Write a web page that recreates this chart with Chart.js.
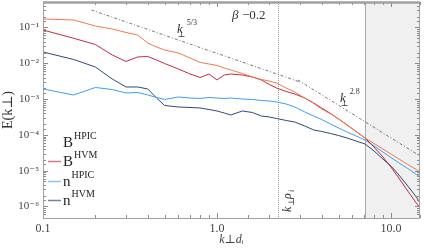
<!DOCTYPE html>
<html>
<head>
<meta charset="utf-8">
<script src="https://cdn.jsdelivr.net/npm/chart.js@4.4.1/dist/chart.umd.min.js"></script>
<style>
  html, body { margin: 0; padding: 0; background: #fff; }
  #wrap { width: 424px; height: 248px; }
</style>
</head>
<body>
<div id="wrap"><canvas id="spectrumChart" width="424" height="248"></canvas></div>
<script>
// k_perp d_i grid shared by all spectra
const kPerp = [0.1, 0.15, 0.2, 0.25, 0.3, 0.35, 0.4, 0.45, 0.5, 0.6, 0.7, 0.8, 0.9, 1.0,
  1.1, 1.2, 1.4, 1.6, 1.8, 2.0, 2.2, 2.5, 2.8, 3.2, 3.6, 4.0, 4.5, 5.0, 5.6, 6.3, 7.1,
  8.0, 9.0, 10, 11, 12.5, 14, 14.7];

// spectra
const bHpic = [0.173, 0.162, 0.110, 0.0908, 0.0725, 0.0617, 0.0369, 0.0285, 0.0235, 0.0194,
  0.01406, 0.01053, 9.56e-3, 8.68e-3, 7.39e-3, 6.50e-3, 5.19e-3, 4.14e-3, 3.53e-3, 3.20e-3,
  2.82e-3, 2.04e-3, 1.58e-3, 1.07e-3, 7.54e-4, 5.29e-4, 3.84e-4, 2.78e-4, 1.89e-4, 1.245e-4,
  8.19e-5, 5.75e-5, 4.04e-5, 2.93e-5, 2.19e-5, 1.49e-5, 1.08e-5, 9.20e-6];
const bHvm = [0.0851, 0.0499, 0.0335, 0.0171, 0.01123, 0.0150, 0.0155, 0.01236, 9.87e-3,
  6.93e-3, 5.03e-3, 4.01e-3, 5.03e-3, 3.42e-3, 4.71e-3, 5.03e-3, 4.71e-3, 4.14e-3, 3.42e-3,
  2.56e-3, 2.04e-3, 1.63e-3, 1.39e-3, 1.07e-3, 7.78e-4, 5.64e-4, 3.96e-4, 2.78e-4, 1.89e-4,
  1.245e-4, 8.19e-5, 4.59e-5, 2.41e-5, 1.27e-5, 6.67e-6, 2.71e-6, 1.25e-6, 9.08e-7];
const nHpic = [1.92e-3, 1.30e-3, 2.11e-3, 1.85e-3, 1.48e-3, 1.53e-3, 1.30e-3, 1.11e-3, 9.75e-4,
  1.145e-3, 1.07e-3, 1.04e-3, 1.11e-3, 1.07e-3, 1.04e-3, 1.07e-3, 1.006e-3, 9.75e-4, 9.14e-4,
  8.85e-4, 8.30e-4, 7.30e-4, 6.02e-4, 4.36e-4, 3.37e-4, 2.69e-4, 2.02e-4, 1.56e-4, 1.205e-4,
  9.32e-5, 7.20e-5, 4.90e-5, 3.33e-5, 2.34e-5, 1.70e-5, 1.15e-5, 7.83e-6, 6.67e-6];
const nHvm = [0.0207, 0.01277, 7.88e-3, 3.64e-3, 2.18e-3, 2.18e-3, 1.92e-3, 1.07e-3, 6.63e-4,
  6.02e-4, 5.83e-4, 5.64e-4, 5.12e-4, 4.65e-4, 4.09e-4, 3.60e-4, 4.65e-4, 4.22e-4, 3.37e-4,
  3.16e-4, 2.87e-4, 2.53e-4, 2.29e-4, 1.77e-4, 1.37e-4, 1.245e-4, 1.09e-4, 9.62e-5, 8.19e-5,
  6.75e-5, 5.57e-5, 3.55e-5, 2.12e-5, 1.35e-5, 8.09e-6, 3.74e-6, 1.84e-6, 1.25e-6];

// reference power laws (end points)
const slopeAK = [0.19, 3.0];
const slopeAE = [0.308, 3.0e-3];
const slopeBK = [2.92, 14.7];
const slopeBE = [3.42e-3, 2.57e-5];

const rhoK = 2.24;      // k_perp rho_i marker
const shadeFrom = 7.1;  // shaded range start

const seriesNames = ["HPIC", "HVM", "HPIC", "HVM"];
const seriesBase = ["B", "B", "n", "n"];
const seriesColors = ["#f07a48", "#c9283f", "#3d9cf5", "#2c4a78"];
const legendColors = [null, "#d27a8a", "#8cc4f0", "#6d87a3"];

const xTickLabels = { "0.1": "0.1", "1": "1.0", "10": "10.0" };
const yTickLabels = ["10⁻¹", "10⁻²", "10⁻³", "10⁻⁴", "10⁻⁵", "10⁻⁶"];

const SERIF = "'Liberation Serif', 'DejaVu Serif', serif";

function isDecade(v) {
  const l = Math.log10(v);
  return Math.abs(l - Math.round(l)) < 1e-6;
}

function pts(xs, ys) {
  return xs.map((x, i) => ({ x: x, y: ys[i] }));
}

// text with a superscript and/or subscript
function drawSymbol(ctx, x, y, base, sub, sup, size, italic) {
  ctx.font = (italic ? "italic " : "") + size + "px " + SERIF;
  ctx.fillText(base, x, y);
  const w = ctx.measureText(base).width;
  const small = Math.round(size * 0.62);
  ctx.font = small + "px " + SERIF;
  if (sub) ctx.fillText(sub, x + w * 0.15, y + size * 0.3);
  if (sup) ctx.fillText(sup, x + w + 4, y - size * 0.6);
}

const decorations = {
  id: "decorations",
  beforeDatasetsDraw(chart) {
    const { ctx, chartArea: a, scales: { x } } = chart;
    ctx.save();
    // shaded dissipation range
    const xs = Math.round(x.getPixelForValue(shadeFrom)) + 0.5;
    ctx.fillStyle = "#f0f0f0";
    ctx.fillRect(xs, a.top, a.right - xs, a.bottom - a.top);
    ctx.strokeStyle = "#a8a8a8";
    ctx.lineWidth = 1;
    ctx.beginPath();
    ctx.moveTo(xs, a.top);
    ctx.lineTo(xs, a.bottom);
    ctx.stroke();
    // k rho_i dotted marker
    const xr = Math.round(x.getPixelForValue(rhoK)) + 0.5;
    ctx.strokeStyle = "#9a9a9a";
    ctx.setLineDash([1, 1]);
    ctx.beginPath();
    ctx.moveTo(xr, a.top);
    ctx.lineTo(xr, a.bottom);
    ctx.stroke();
    ctx.restore();
  },
  afterDatasetsDraw(chart) {
    const { ctx, chartArea: a, scales: { x, y } } = chart;
    ctx.save();
    // inward tick marks on all four sides
    ctx.strokeStyle = "#8a8a8a";
    ctx.lineWidth = 1;
    ctx.beginPath();
    x.ticks.forEach(t => {
      if (t.value < x.min || t.value > x.max) return;
      const px = Math.round(x.getPixelForValue(t.value)) + 0.5;
      const len = isDecade(t.value) ? 5 : 3;
      ctx.moveTo(px, a.bottom); ctx.lineTo(px, a.bottom - len);
      ctx.moveTo(px, a.top); ctx.lineTo(px, a.top + len);
    });
    y.ticks.forEach(t => {
      if (t.value < y.min || t.value > y.max) return;
      const py = Math.round(y.getPixelForValue(t.value)) + 0.5;
      const len = isDecade(t.value) ? 5 : 3;
      ctx.moveTo(a.left, py); ctx.lineTo(a.left + len, py);
      ctx.moveTo(a.right, py); ctx.lineTo(a.right - len, py);
    });
    ctx.stroke();

    // frame
    ctx.strokeStyle = "#a0a0a0";
    ctx.beginPath();
    ctx.moveTo(a.left, a.bottom + 0.5); ctx.lineTo(a.right, a.bottom + 0.5);
    ctx.moveTo(a.left + 0.5, a.top); ctx.lineTo(a.left + 0.5, a.bottom);
    ctx.moveTo(a.right - 0.5, a.top); ctx.lineTo(a.right - 0.5, a.bottom);
    ctx.stroke();
    ctx.lineWidth = 2.5;
    ctx.beginPath();
    ctx.moveTo(a.left, a.top + 0.5); ctx.lineTo(a.right, a.top + 0.5);
    ctx.stroke();

    // annotations
    ctx.fillStyle = "#333";
    ctx.textBaseline = "alphabetic";
    ctx.textAlign = "left";
    ctx.font = "italic 13px " + SERIF;
    const bx = x.getPixelForValue(1.22), by = y.getPixelForValue(0.173);
    ctx.fillText("β", bx, by);
    ctx.font = "13px " + SERIF;
    ctx.fillText("−0.2", bx + 10, by);

    drawSymbol(ctx, x.getPixelForValue(0.589), y.getPixelForValue(0.0702), "k", "⊥", "5/3", 13, true);
    drawSymbol(ctx, x.getPixelForValue(5.09), y.getPixelForValue(8.30e-4), "k", "⊥", "2.8", 13, true);

    // rotated k_perp rho_i
    ctx.save();
    ctx.translate(x.getPixelForValue(2.52) + 4, y.getPixelForValue(7.02e-7));
    ctx.rotate(-Math.PI / 2);
    ctx.font = "italic 12px " + SERIF;
    ctx.fillText("k", 0, 0);
    ctx.font = "8px " + SERIF;
    ctx.fillText("⊥", 6, 3);
    ctx.font = "italic 12px " + SERIF;
    ctx.fillText("ρ", 13, 0);
    ctx.font = "italic 8px " + SERIF;
    ctx.fillText("i", 20, 3);
    ctx.restore();

    // legend
    seriesNames.forEach((name, i) => {
      const base = Math.round(a.top + 145 + i * 19.3);
      if (legendColors[i]) {
        ctx.strokeStyle = legendColors[i];
        ctx.lineWidth = 1.5;
        ctx.beginPath();
        ctx.moveTo(a.left + 5, base - 4.5);
        ctx.lineTo(a.left + 18, base - 4.5);
        ctx.stroke();
      }
      ctx.fillStyle = "#222";
      ctx.font = "15px " + SERIF;
      ctx.fillText(seriesBase[i], a.left + 20, base);
      const w = ctx.measureText(seriesBase[i]).width;
      ctx.font = "10px " + SERIF;
      ctx.fillText(name, a.left + 20 + w + 1, base - 8);
    });
    ctx.restore();
  }
};

function lineSet(label, data, color, width, dash) {
  return {
    label: label,
    data: data,
    borderColor: color,
    backgroundColor: color,
    borderWidth: width,
    borderDash: dash || [],
    pointRadius: 0,
    tension: 0,
    fill: false
  };
}

const chart = new Chart(document.getElementById("spectrumChart"), {
  type: "line",
  data: {
    datasets: [
      lineSet("k⊥^-5/3", pts(slopeAK, slopeAE), "#555", 0.8, [3, 2, 1, 2]),
      lineSet("k⊥^-2.8", pts(slopeBK, slopeBE), "#555", 0.8, [3, 2, 1, 2]),
      lineSet("B HPIC", pts(kPerp, bHpic), seriesColors[0], 1),
      lineSet("B HVM", pts(kPerp, bHvm), seriesColors[1], 1),
      lineSet("n HPIC", pts(kPerp, nHpic), seriesColors[2], 1),
      lineSet("n HVM", pts(kPerp, nHvm), seriesColors[3], 1)
    ]
  },
  options: {
    responsive: false,
    animation: false,
    layout: { padding: { top: 2, right: 4, left: 0, bottom: 0 } },
    plugins: { legend: { display: false }, tooltip: { enabled: false } },
    scales: {
      x: {
        type: "logarithmic",
        min: 0.1,
        max: 14.7,
        grid: { display: false, drawTicks: false },
        border: { display: false },
        ticks: {
          autoSkip: false,
          maxRotation: 0,
          padding: 4,
          color: "#444",
          font: { family: SERIF, size: 12 },
          callback: (v) => {
            const key = String(Math.round(v * 10) / 10);
            return isDecade(v) ? (xTickLabels[key] || "") : "";
          }
        },
        title: {
          display: true,
          text: "k⊥dᵢ",
          color: "#444",
          font: { family: SERIF, size: 12, style: "italic" },
          padding: { top: 0, bottom: 1 }
        },
        afterFit: (s) => { s.height = 30; s.paddingLeft = 0; s.paddingRight = 0; }
      },
      y: {
        type: "logarithmic",
        min: 4.77e-7,
        max: 0.515,
        grid: { display: false, drawTicks: false },
        border: { display: false },
        ticks: {
          autoSkip: false,
          padding: 4,
          color: "#444",
          font: { family: SERIF, size: 11 },
          callback: (v) => {
            if (!isDecade(v)) return "";
            const n = -Math.round(Math.log10(v));
            return yTickLabels[n - 1] || "";
          }
        },
        title: {
          display: true,
          text: "E(k⊥)",
          color: "#333",
          font: { family: SERIF, size: 14 },
          padding: { top: 0, bottom: 0 }
        },
        afterFit: (s) => { s.width = 43; s.paddingTop = 0; s.paddingBottom = 0; }
      }
    }
  },
  plugins: [decorations]
});
</script>
</body>
</html>
